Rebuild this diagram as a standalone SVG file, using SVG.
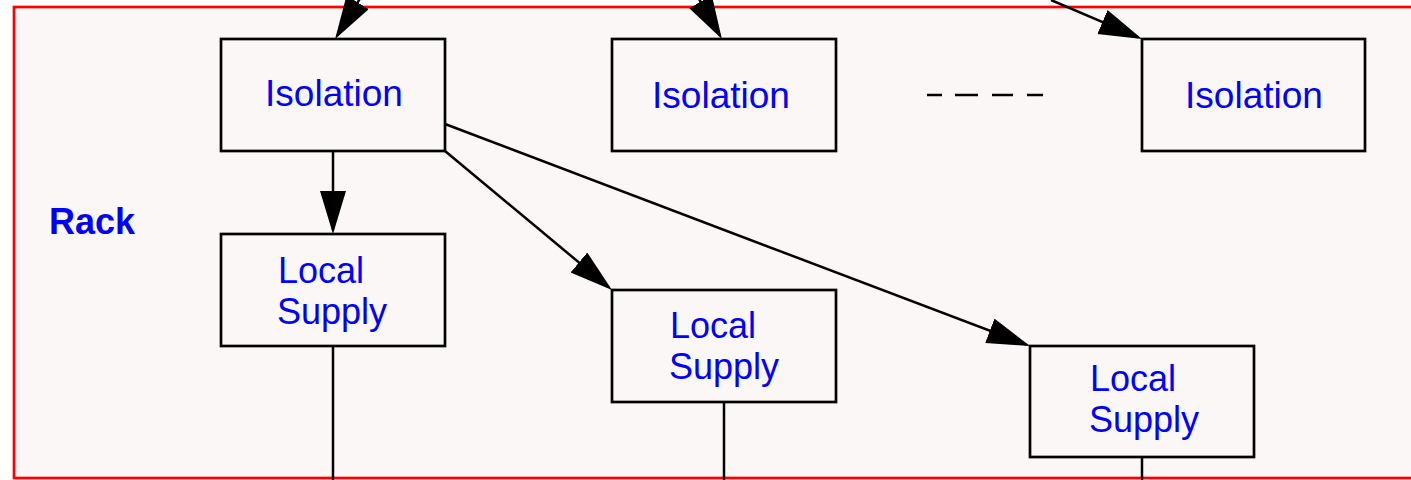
<svg xmlns="http://www.w3.org/2000/svg" width="1411" height="480" viewBox="0 0 1411 480">
<style>
.box{fill:none;stroke:#000;stroke-width:2.7}
.lbl{font-family:"Liberation Sans",Arial,sans-serif;font-size:36px;fill:#0000ff}
.iso{font-size:37px}
.edge{fill:none;stroke:#000;stroke-width:2.5}
</style>
<defs>
<marker id="ah" markerUnits="userSpaceOnUse" markerWidth="46" markerHeight="28" refX="39" refY="13" orient="auto">
<path d="M0,0 L43,13 L0,26 z" fill="#000"/>
</marker>
</defs>
<rect x="0" y="0" width="1411" height="480" fill="#ffffff"/>
<g id="rack">
<rect x="14" y="7" width="1420" height="471" fill="#fcf7f7" stroke="#ff0000" stroke-width="2.7"/>
<text x="49" y="234" class="lbl" font-weight="bold">Rack</text>
</g>
<g id="connectors">
<path class="edge" d="M364,-8 L337.2,35.6" marker-end="url(#ah)"/>
<path class="edge" d="M695,-8 L719.9,35.6" marker-end="url(#ah)"/>
<path class="edge" d="M1051,0 L1138.3,37.4" marker-end="url(#ah)"/>
<path class="edge" d="M333,151 L333,230" marker-end="url(#ah)"/>
<path class="edge" d="M445,151 L608.9,287.4" marker-end="url(#ah)"/>
<path class="edge" d="M445,124 L1026.3,344.6" marker-end="url(#ah)"/>
<path class="edge" d="M333,346 L333,482 M724,402 L724,482 M1142,457 L1142,482"/>
<path class="edge" d="M927,95 L942,95 M955,95 L978,95 M992,95 L1013,95 M1027,95 L1043,95" stroke-width="3"/>
</g>
<g id="isolation1">
<rect class="box" x="221" y="39" width="224" height="112"/>
<text class="lbl iso" x="334" y="106" text-anchor="middle">Isolation</text>
</g>
<g id="isolation2">
<rect class="box" x="612" y="39" width="224" height="112"/>
<text class="lbl iso" x="721" y="108" text-anchor="middle">Isolation</text>
</g>
<g id="isolation3">
<rect class="box" x="1142" y="39" width="223" height="112"/>
<text class="lbl iso" x="1254" y="108" text-anchor="middle">Isolation</text>
</g>
<g id="localsupply1">
<rect class="box" x="221" y="234" width="224" height="112"/>
<text class="lbl" x="278" y="283">Local</text>
<text class="lbl" x="277" y="324">Supply</text>
</g>
<g id="localsupply2">
<rect class="box" x="612" y="290" width="224" height="112"/>
<text class="lbl" x="670" y="338">Local</text>
<text class="lbl" x="669" y="379">Supply</text>
</g>
<g id="localsupply3">
<rect class="box" x="1030" y="346" width="224" height="111"/>
<text class="lbl" x="1090" y="391">Local</text>
<text class="lbl" x="1089" y="432">Supply</text>
</g>
</svg>
